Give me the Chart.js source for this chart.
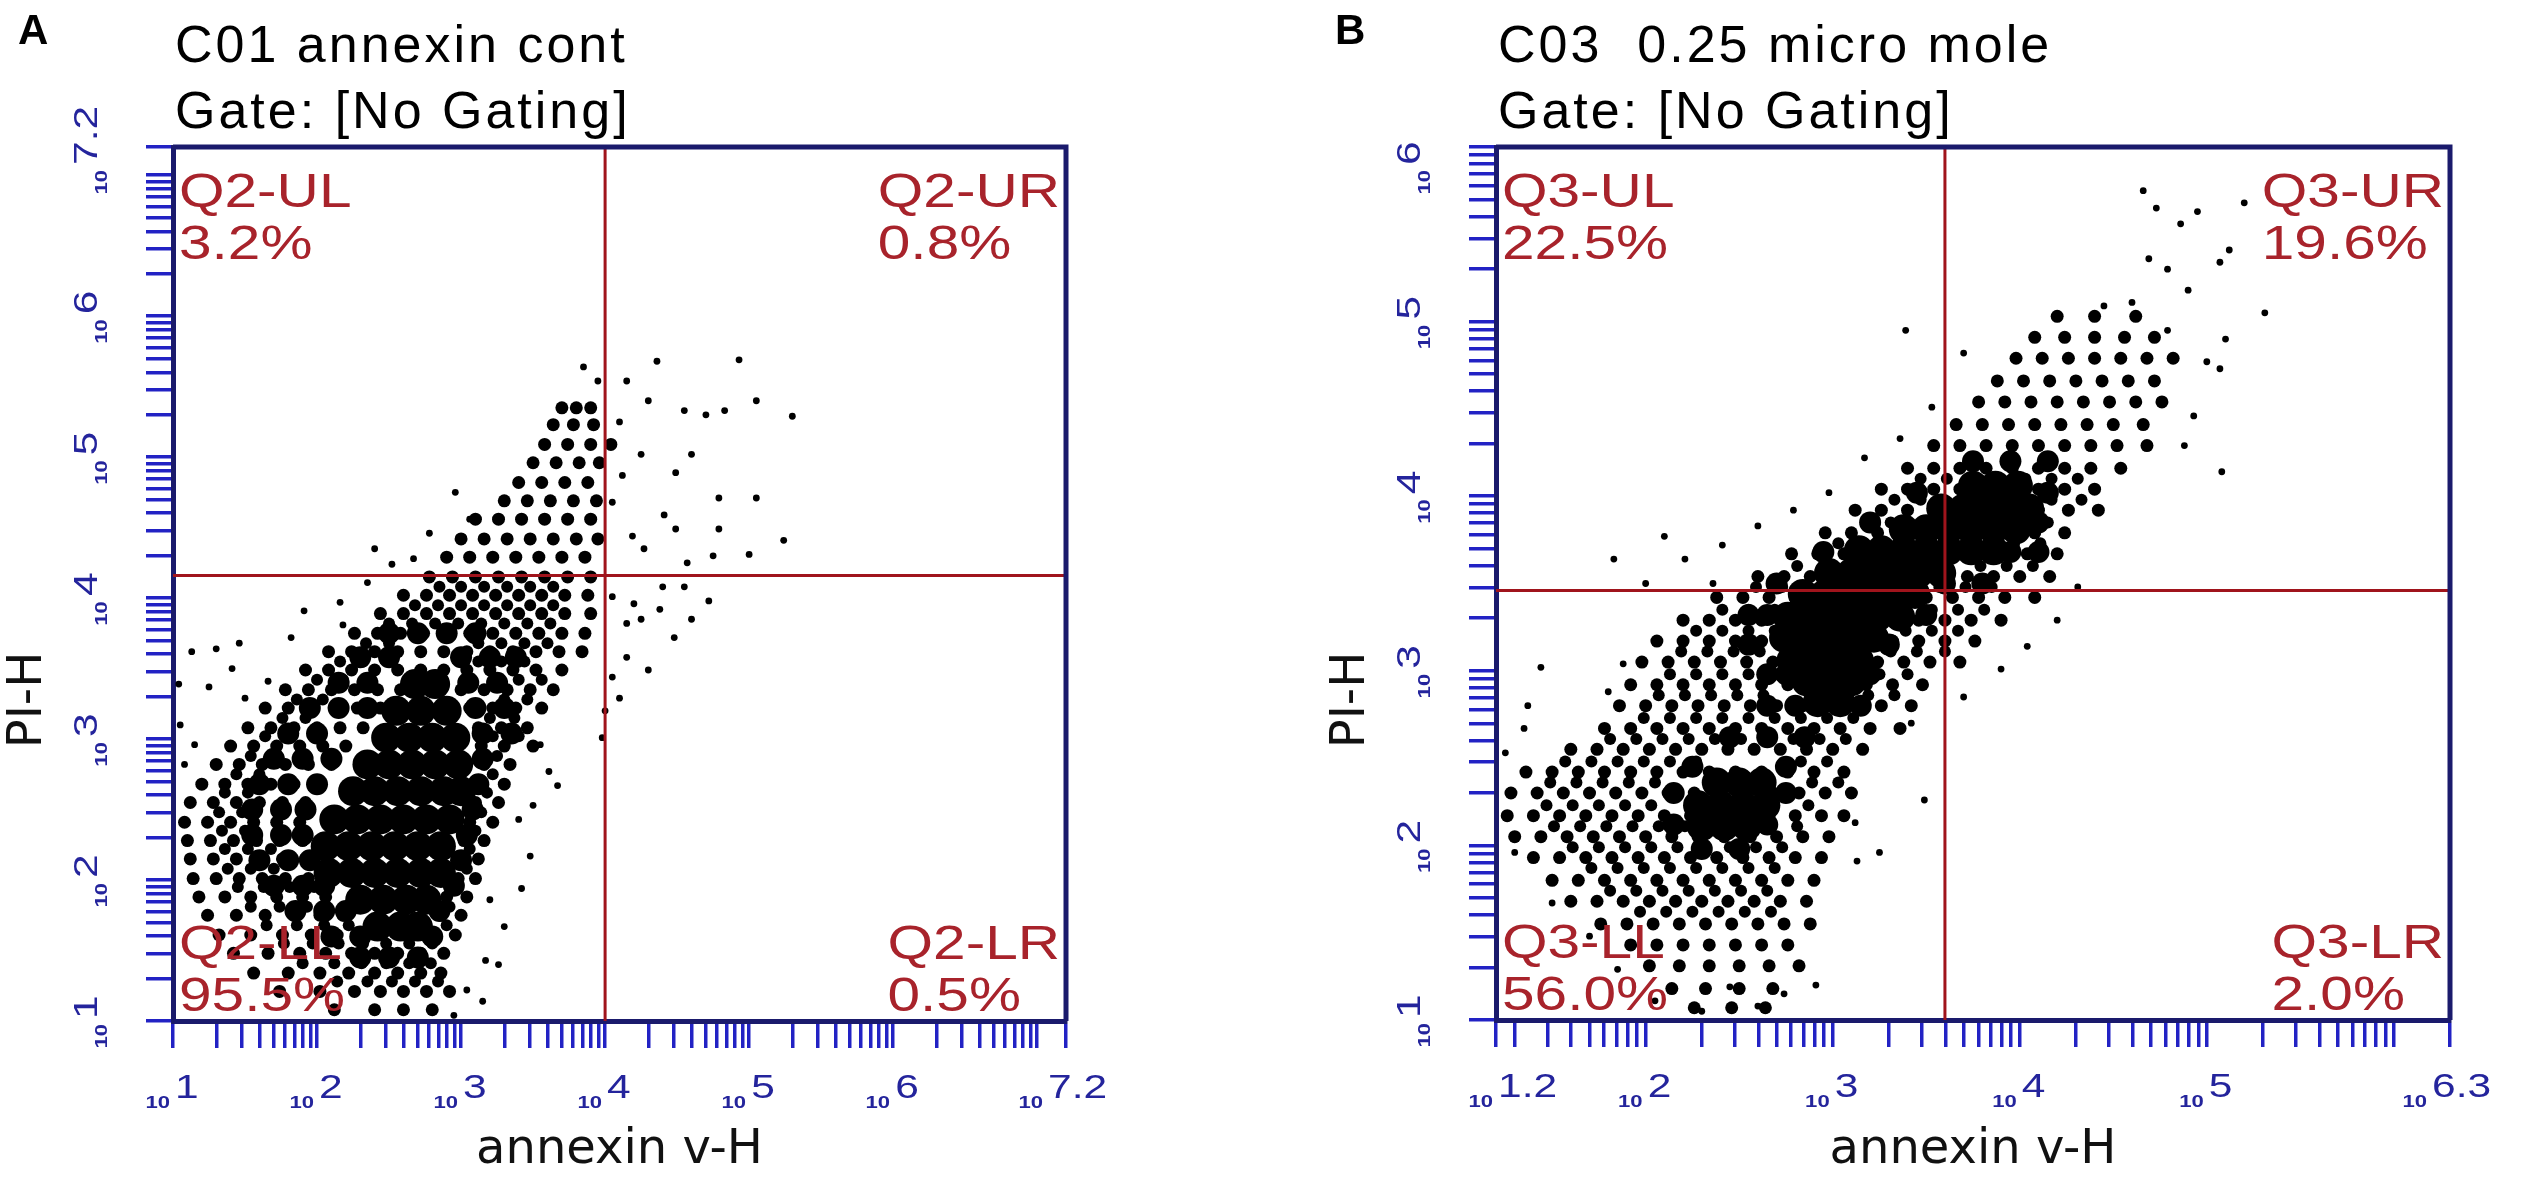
<!DOCTYPE html>
<html>
<head>
<meta charset="utf-8">
<title>Annexin V / PI flow cytometry</title>
<script src="https://cdn.jsdelivr.net/npm/chart.js@4.4.0/dist/chart.umd.min.js"></script>
<style>
  html, body { margin: 0; padding: 0; background: #fff; }
  #wrap { position: relative; width: 2537px; height: 1191px; overflow: hidden; }
  .panel { position: absolute; top: 0; }
  #pA { left: 0; }
  #pB { left: 1268px; }
</style>
</head>
<body>
<div id="wrap">
  <div class="panel" id="pA"><canvas id="chartA" width="1268" height="1191"></canvas></div>
  <div class="panel" id="pB"><canvas id="chartB" width="1269" height="1191"></canvas></div>
</div>
<script>
// ---- panel text ----
const titlesA = ['C01 annexin cont', 'Gate: [No Gating]'];
const titlesB = ['C03  0.25 micro mole', 'Gate: [No Gating]'];
const xTitle = 'annexin v-H';
const yTitle = 'PI-H';

// ---- axes (all in decades, log10) ----
const xRangeA = [1, 7.2];
const yRangeA = [1, 7.2];
const xRangeB = [1.2, 6.3];
const yRangeB = [1, 6];
const xLabelsA = [1, 2, 3, 4, 5, 6, 7.2];
const yLabelsA = [1, 2, 3, 4, 5, 6, 7.2];
const xLabelsB = [1.2, 2, 3, 4, 5, 6.3];
const yLabelsB = [1, 2, 3, 4, 5, 6];

// quadrant gate (x, y) in decades
const quadA = [4.0, 4.16];
const quadB = [3.6, 3.46];
const quadNamesA = ['Q2-UL', 'Q2-UR', 'Q2-LL', 'Q2-LR'];
const quadPctA = ['3.2%', '0.8%', '95.5%', '0.5%'];
const quadNamesB = ['Q3-UL', 'Q3-UR', 'Q3-LL', 'Q3-LR'];
const quadPctB = ['22.5%', '19.6%', '56.0%', '2.0%'];

// ---- events, in decades ----
// solid black core: [y, [x...]]
const coreA = [
  [3.39, [2.68, 2.82]],
  [3.2, [2.55, 2.72, 2.9]],
  [3.01, [2.48, 2.64, 2.8, 2.96]],
  [2.82, [2.35, 2.5, 2.66, 2.82, 2.98]],
  [2.63, [2.25, 2.4, 2.56, 2.72, 2.88, 3.0]],
  [2.43, [2.12, 2.28, 2.44, 2.6, 2.76, 2.92]],
  [2.24, [2.06, 2.22, 2.38, 2.54, 2.7, 2.86]],
  [2.05, [2.08, 2.24, 2.4, 2.56, 2.72, 2.86]],
  [1.86, [2.3, 2.46, 2.62, 2.76]],
  [1.67, [2.42, 2.58, 2.7]]
];
// dark band round the core: [y, [x...]]
const haloA = [
  [3.75, [2.5, 2.7, 2.9, 3.1]],
  [3.58, [2.3, 2.5, 3.0, 3.2, 3.38]],
  [3.4, [2.15, 2.35, 3.05, 3.25]],
  [3.22, [1.95, 2.15, 2.35, 3.1, 3.3]],
  [3.04, [1.8, 2.0, 3.15, 3.35]],
  [2.86, [1.7, 1.9, 2.1, 3.15]],
  [2.68, [1.6, 1.8, 2.0, 3.12]],
  [2.5, [1.55, 1.75, 1.92, 3.08]],
  [2.32, [1.55, 1.75, 1.9, 3.04]],
  [2.14, [1.6, 1.8, 1.95, 3.0]],
  [1.96, [1.7, 1.9, 2.05, 2.95]],
  [1.78, [1.85, 2.05, 2.2, 2.85]],
  [1.6, [2.1, 2.3, 2.8]],
  [1.45, [2.3, 2.5, 2.7]]
];
// speckled cloud: [y, [x...]]
const cloudA = [
  [5.35, [3.7, 3.8, 3.9]],
  [5.23, [3.64, 3.78, 3.92]],
  [5.09, [3.58, 3.74, 3.9, 4.04]],
  [4.96, [3.5, 3.66, 3.82, 3.96]],
  [4.82, [3.4, 3.56, 3.72, 3.88]],
  [4.69, [3.3, 3.46, 3.62, 3.78, 3.94]],
  [4.56, [3.1, 3.26, 3.42, 3.58, 3.74, 3.9]],
  [4.42, [3.0, 3.16, 3.32, 3.48, 3.64, 3.8, 3.95]],
  [4.29, [2.9, 3.06, 3.22, 3.38, 3.54, 3.7, 3.86]],
  [4.15, [2.78, 2.94, 3.1, 3.26, 3.42, 3.58, 3.74, 3.9]],
  [4.02, [2.6, 2.76, 2.92, 3.08, 3.24, 3.4, 3.56, 3.72, 3.88]],
  [3.89, [2.44, 2.6, 2.76, 2.92, 3.08, 3.24, 3.4, 3.56, 3.72, 3.9]],
  [3.75, [2.26, 2.42, 2.58, 2.74, 2.9, 3.06, 3.22, 3.38, 3.54, 3.7, 3.86]],
  [3.62, [2.08, 2.24, 2.4, 2.56, 2.72, 2.88, 3.04, 3.2, 3.36, 3.52, 3.68, 3.84]],
  [3.49, [1.92, 2.08, 2.24, 2.4, 2.56, 2.72, 2.88, 3.04, 3.2, 3.36, 3.52, 3.7]],
  [3.35, [1.78, 1.94, 2.1, 2.26, 2.42, 2.58, 3.0, 3.16, 3.32, 3.48, 3.64]],
  [3.22, [1.64, 1.8, 1.96, 2.12, 2.28, 2.44, 3.06, 3.22, 3.38, 3.56]],
  [3.08, [1.52, 1.68, 1.84, 2.0, 2.16, 2.32, 3.12, 3.28, 3.46]],
  [2.95, [1.4, 1.56, 1.72, 1.88, 2.04, 2.2, 3.14, 3.3, 3.5]],
  [2.82, [1.3, 1.46, 1.62, 1.78, 1.94, 2.1, 3.16, 3.34]],
  [2.68, [1.2, 1.36, 1.52, 1.68, 1.84, 2.0, 3.14, 3.3]],
  [2.55, [1.12, 1.28, 1.44, 1.6, 1.76, 1.92, 3.1, 3.26]],
  [2.41, [1.08, 1.24, 1.4, 1.56, 1.72, 1.88, 3.06, 3.22]],
  [2.28, [1.1, 1.26, 1.42, 1.58, 1.74, 1.9, 3.02, 3.16]],
  [2.15, [1.12, 1.28, 1.44, 1.6, 1.76, 1.92, 3.0, 3.12]],
  [2.01, [1.14, 1.3, 1.46, 1.62, 1.78, 1.94, 2.98, 3.1]],
  [1.88, [1.18, 1.36, 1.54, 1.72, 1.9, 2.06, 2.9, 3.04]],
  [1.75, [1.24, 1.44, 1.64, 1.84, 2.02, 2.18, 2.86, 3.0]],
  [1.61, [1.32, 1.54, 1.76, 1.96, 2.14, 2.3, 2.82, 2.96]],
  [1.48, [1.42, 1.66, 1.88, 2.06, 2.24, 2.4, 2.56, 2.72, 2.88]],
  [1.34, [1.56, 1.8, 2.02, 2.22, 2.4, 2.56, 2.72, 2.86]],
  [1.21, [1.74, 2.02, 2.26, 2.44, 2.6, 2.76, 2.92]],
  [1.08, [2.12, 2.4, 2.6, 2.8]]
];
// extra events filling the denser inner part of the cloud: [y, [x...]]
const innerA = [
  [4.08, [2.85, 3.0, 3.16, 3.32, 3.48, 3.64]],
  [3.95, [2.68, 2.84, 3.0, 3.16, 3.32, 3.48, 3.64]],
  [3.82, [2.5, 2.66, 2.82, 2.98, 3.14, 3.3, 3.46, 3.62]],
  [3.68, [2.34, 2.5, 3.12, 3.28, 3.44, 3.6]],
  [3.55, [2.16, 2.32, 3.12, 3.28, 3.44]],
  [3.42, [2.0, 2.18, 3.24, 3.4, 3.56]],
  [3.28, [1.86, 2.04, 3.3, 3.46]],
  [3.15, [1.76, 1.92, 3.2, 3.37]],
  [3.02, [1.64, 1.8, 3.22, 3.4]],
  [2.88, [1.54, 1.7, 3.25]],
  [2.75, [1.44, 1.6, 3.22]],
  [2.62, [1.36, 1.52, 3.18]],
  [2.48, [1.32, 1.48, 3.14]],
  [2.35, [1.34, 1.5, 3.1]],
  [2.22, [1.36, 1.52, 1.68, 3.06]],
  [2.08, [1.38, 1.54, 1.7, 3.04]],
  [1.95, [1.45, 1.63, 1.81, 1.98, 2.96]],
  [1.81, [1.54, 1.74, 1.93, 2.92]],
  [1.68, [1.65, 1.86, 2.05, 2.22, 2.9]],
  [1.55, [1.77, 1.97, 2.15, 2.32, 2.48, 2.64, 2.8]],
  [1.41, [1.9, 2.12, 2.31, 2.48, 2.64, 2.79]],
  [1.28, [2.14, 2.35, 2.52, 2.68, 2.84]]
];
// single scattered events: [x, y]
const strayA = [
  [4.93, 5.69], [4.36, 5.68], [5.05, 5.4], [5.3, 5.29], [4.55, 5.33], [4.7, 5.3], [4.83, 5.33],
  [4.49, 4.89], [4.6, 5.02], [4.79, 4.71], [5.05, 4.71], [5.24, 4.41], [5.0, 4.31], [4.79, 4.49],
  [4.41, 4.59], [4.49, 4.49], [4.19, 4.44], [4.27, 4.35], [4.75, 4.3], [4.57, 4.25], [4.25, 5.02],
  [4.1, 5.25], [4.15, 5.54], [3.95, 5.54], [3.85, 5.64], [4.3, 5.4], [4.12, 4.87], [4.05, 4.68],
  [4.05, 4.01], [4.15, 3.82], [4.25, 3.85], [4.38, 3.92], [4.48, 3.72], [4.6, 3.85], [4.72, 3.98],
  [4.15, 3.58], [4.05, 3.44], [4.3, 3.49], [4.4, 4.08], [4.55, 4.08], [4.0, 3.2], [3.98, 3.01],
  [4.1, 3.29], [4.2, 3.96],
  [2.96, 4.75], [3.06, 4.56], [2.78, 4.46], [2.67, 4.28], [2.52, 4.24], [2.35, 4.11], [2.16, 3.97],
  [1.91, 3.91], [1.82, 3.72], [1.46, 3.68], [1.3, 3.64], [1.13, 3.62], [1.41, 3.5], [1.25, 3.37],
  [1.66, 3.41], [2.18, 3.81], [1.05, 3.1], [1.15, 2.96], [1.5, 3.29], [1.08, 2.82], [1.04, 3.39],
  [2.4, 4.35],
  [3.48, 2.17], [3.42, 1.94], [3.17, 1.43], [3.26, 1.4], [3.04, 1.22], [3.67, 2.67], [3.61, 2.77],
  [3.4, 2.43], [3.55, 2.96], [3.3, 1.67], [3.15, 1.14], [2.95, 1.04], [3.5, 2.53], [3.2, 1.86]
];

const coreB = [
  [4.06, [3.75, 3.87, 3.99]],
  [3.93, [3.58, 3.7, 3.82, 3.94, 4.05]],
  [3.81, [3.38, 3.5, 3.62, 3.74, 3.86, 3.98]],
  [3.69, [3.14, 3.26, 3.38, 3.5, 3.62, 3.74, 3.86]],
  [3.56, [2.98, 3.1, 3.22, 3.34, 3.46, 3.58]],
  [3.44, [2.84, 2.96, 3.08, 3.2, 3.32, 3.44]],
  [3.31, [2.76, 2.88, 3.0, 3.12, 3.24, 3.36]],
  [3.19, [2.74, 2.86, 2.98, 3.1, 3.22]],
  [3.06, [2.78, 2.9, 3.02, 3.14]],
  [2.94, [2.86, 2.98, 3.1]],
  [2.82, [2.92, 3.04]],
  [2.36, [2.38, 2.5, 2.62]],
  [2.23, [2.28, 2.4, 2.52, 2.64]],
  [2.11, [2.3, 2.42, 2.54]]
];
const haloB = [
  [4.2, [3.75, 3.95, 4.15]],
  [4.02, [3.45, 4.15]],
  [3.85, [3.2, 4.1]],
  [3.68, [2.95, 3.95, 4.1]],
  [3.5, [2.7, 3.6, 3.8]],
  [3.32, [2.55, 2.65, 3.5]],
  [3.15, [2.55, 3.3]],
  [2.98, [2.65, 2.75, 3.2]],
  [2.8, [2.65, 2.8, 3.15]],
  [2.62, [2.45, 2.65, 2.85]],
  [2.45, [2.25, 2.75]],
  [2.3, [2.15, 2.75]],
  [2.12, [2.15, 2.65]],
  [1.98, [2.3, 2.5]]
];
const cloudB = [
  [5.03, [4.2, 4.4, 4.62]],
  [4.91, [4.08, 4.24, 4.4, 4.56, 4.72]],
  [4.79, [3.98, 4.12, 4.26, 4.4, 4.54, 4.68, 4.82]],
  [4.66, [3.88, 4.02, 4.16, 4.3, 4.44, 4.58, 4.72]],
  [4.54, [3.78, 3.92, 4.06, 4.2, 4.34, 4.48, 4.62, 4.76]],
  [4.41, [3.66, 3.8, 3.94, 4.08, 4.22, 4.36, 4.5, 4.66]],
  [4.29, [3.54, 3.68, 3.82, 3.96, 4.1, 4.24, 4.38, 4.52, 4.68]],
  [4.16, [3.4, 3.54, 3.68, 3.82, 3.96, 4.1, 4.24, 4.38, 4.54]],
  [4.04, [3.26, 3.4, 3.54, 3.68, 3.82, 3.96, 4.1, 4.24, 4.4]],
  [3.92, [3.12, 3.26, 3.4, 3.54, 3.68, 3.82, 3.96, 4.1, 4.26, 4.42]],
  [3.79, [2.96, 3.1, 3.24, 3.38, 3.52, 3.66, 3.8, 3.94, 4.08, 4.24]],
  [3.67, [2.78, 2.92, 3.06, 3.2, 3.34, 3.48, 3.62, 3.76, 3.9, 4.04, 4.2]],
  [3.54, [2.6, 2.74, 2.88, 3.02, 3.16, 3.3, 3.44, 3.58, 3.72, 3.86, 4.0, 4.16]],
  [3.42, [2.38, 2.52, 2.66, 2.8, 2.94, 3.08, 3.22, 3.36, 3.5, 3.64, 3.78, 3.92, 4.08]],
  [3.29, [2.2, 2.34, 2.48, 2.62, 2.76, 2.9, 3.04, 3.18, 3.32, 3.46, 3.6, 3.74, 3.9]],
  [3.17, [2.06, 2.2, 2.34, 2.48, 2.62, 2.76, 2.9, 3.04, 3.18, 3.32, 3.46, 3.6, 3.76]],
  [3.05, [1.98, 2.12, 2.26, 2.4, 2.54, 2.68, 2.82, 2.96, 3.1, 3.24, 3.38, 3.52, 3.68]],
  [2.92, [1.92, 2.06, 2.2, 2.34, 2.48, 2.62, 2.76, 2.9, 3.04, 3.18, 3.32, 3.48]],
  [2.8, [1.86, 2.0, 2.14, 2.28, 2.42, 2.56, 2.7, 2.84, 2.98, 3.12, 3.26, 3.42]],
  [2.67, [1.78, 1.92, 2.06, 2.2, 2.34, 2.48, 2.62, 2.76, 2.9, 3.04, 3.2, 3.36]],
  [2.55, [1.6, 1.74, 1.88, 2.02, 2.16, 2.3, 2.44, 2.58, 2.72, 2.86, 3.0, 3.16]],
  [2.42, [1.36, 1.5, 1.64, 1.78, 1.92, 2.06, 2.2, 2.34, 2.48, 2.62, 2.76, 2.9, 3.06]],
  [2.3, [1.28, 1.42, 1.56, 1.7, 1.84, 1.98, 2.12, 2.26, 2.4, 2.54, 2.68, 2.82, 2.96, 3.1]],
  [2.17, [1.26, 1.4, 1.54, 1.68, 1.82, 1.96, 2.1, 2.24, 2.38, 2.52, 2.66, 2.8, 2.94, 3.06]],
  [2.05, [1.3, 1.44, 1.58, 1.72, 1.86, 2.0, 2.14, 2.28, 2.42, 2.56, 2.7, 2.84, 2.98]],
  [1.93, [1.4, 1.54, 1.68, 1.82, 1.96, 2.1, 2.24, 2.38, 2.52, 2.66, 2.8, 2.94]],
  [1.8, [1.5, 1.64, 1.78, 1.92, 2.06, 2.2, 2.34, 2.48, 2.62, 2.76, 2.9]],
  [1.68, [1.6, 1.74, 1.88, 2.02, 2.16, 2.3, 2.44, 2.58, 2.72, 2.86]],
  [1.55, [1.76, 1.9, 2.04, 2.18, 2.32, 2.46, 2.6, 2.74, 2.88]],
  [1.43, [1.92, 2.06, 2.2, 2.34, 2.48, 2.62, 2.76]],
  [1.31, [2.02, 2.18, 2.34, 2.5, 2.66, 2.82]],
  [1.18, [2.14, 2.32, 2.5, 2.68]],
  [1.07, [2.26, 2.46, 2.64]]
];
const innerB = [
  [4.1, [3.47, 3.61, 4.03, 4.17, 4.31]],
  [3.98, [3.33, 3.47, 4.03, 4.17, 4.33]],
  [3.85, [3.19, 3.31, 4.01, 4.15]],
  [3.73, [3.03, 3.17, 3.97, 4.11]],
  [3.6, [2.81, 2.95, 3.09, 3.79, 3.93, 4.07]],
  [3.48, [2.59, 2.73, 3.57, 3.71, 3.85]],
  [3.35, [2.41, 2.55, 2.69, 3.53, 3.67, 3.81]],
  [3.23, [2.27, 2.41, 2.55, 2.69, 3.39, 3.53, 3.67]],
  [3.11, [2.19, 2.33, 2.47, 2.61, 3.31, 3.45, 3.6]],
  [2.98, [2.13, 2.27, 2.41, 2.55, 2.69, 3.25, 3.4]],
  [2.86, [2.07, 2.21, 2.35, 2.49, 2.63, 3.19, 3.33]],
  [2.73, [1.99, 2.13, 2.27, 2.41, 2.55, 2.69, 2.83, 2.97, 3.11]],
  [2.61, [1.81, 1.95, 2.09, 2.23, 2.37, 2.51, 2.65, 2.79, 2.93, 3.07]],
  [2.48, [1.57, 1.71, 1.85, 1.99, 2.13, 2.27, 2.83, 2.97]],
  [2.36, [1.49, 1.63, 1.77, 1.91, 2.05, 2.89, 3.03]],
  [2.23, [1.47, 1.61, 1.75, 1.89, 2.03, 2.87]],
  [2.11, [1.51, 1.65, 1.79, 1.93, 2.07, 2.21, 2.67, 2.81]],
  [1.99, [1.61, 1.75, 1.89, 2.03, 2.17, 2.31, 2.45, 2.59, 2.73]],
  [1.87, [1.71, 1.85, 1.99, 2.13, 2.27, 2.41, 2.55, 2.69]],
  [1.74, [1.81, 1.95, 2.09, 2.23, 2.37, 2.51, 2.65]],
  [1.62, [1.97, 2.11, 2.25, 2.39, 2.53, 2.67]]
];
const strayB = [
  [4.66, 5.75], [4.73, 5.65], [4.86, 5.56], [4.69, 5.36], [4.79, 5.3], [5.07, 5.34], [5.12, 5.41],
  [4.9, 5.18], [5.31, 5.05], [5.07, 4.73], [5.08, 4.14], [4.93, 4.46], [5.1, 4.9], [4.79, 4.95],
  [4.45, 5.09], [4.6, 5.11], [4.95, 5.63], [5.2, 5.68], [5.0, 4.77], [4.88, 4.29],
  [3.39, 4.95], [3.53, 4.51], [3.36, 4.33], [3.17, 4.22], [2.98, 4.02], [2.79, 3.92], [2.6, 3.83],
  [2.41, 3.72], [2.21, 3.64], [1.83, 3.64], [2.0, 3.5], [2.36, 3.5], [1.44, 3.02], [1.37, 2.8],
  [1.8, 2.88], [1.88, 3.04], [2.1, 3.77], [3.7, 4.82],
  [3.49, 2.26], [3.13, 1.91], [3.12, 2.13], [3.42, 2.7], [3.7, 2.85], [4.04, 3.14], [4.07, 3.42],
  [4.31, 3.48], [4.2, 3.29], [3.9, 3.01], [3.25, 1.96],
  [2.91, 1.2], [2.74, 1.15], [2.6, 1.08], [2.45, 1.19], [2.3, 1.05], [2.05, 1.11], [1.85, 1.29],
  [1.7, 1.48], [1.5, 1.67], [1.3, 1.96], [1.25, 2.53], [1.35, 2.67]
];

// ---- helpers ----
function fromRows(rows) {
  const pts = [];
  rows.forEach(([ly, xs]) => xs.forEach(lx => pts.push({ x: 10 ** lx, y: 10 ** ly })));
  return pts;
}
function fromPairs(pairs) {
  return pairs.map(([lx, ly]) => ({ x: 10 ** lx, y: 10 ** ly }));
}
// tick marks at 1..9 x 10^n inside the range, plus both ends
function logTicks(range) {
  const lo = 10 ** range[0], hi = 10 ** range[1];
  const out = [lo];
  for (let n = Math.floor(range[0]); n <= Math.ceil(range[1]); n++) {
    for (let k = 1; k <= 9; k++) {
      const v = k * 10 ** n;
      if (v > lo * 1.01 && v < hi / 1.01) out.push(v);
    }
  }
  out.push(hi);
  return out;
}

const NAVY = '#1a1a6c';
const TICKBLUE = '#2222c4';
const LABELBLUE = '#24249c';
const GATERED = '#a0141c';
const TEXTRED = '#a8232b';
const WIDE = 1.22;

// text stretched sideways like the old bitmap fonts
function wideText(ctx, text, x, y, sx) {
  ctx.save();
  ctx.translate(x, y);
  ctx.scale(sx, 1);
  ctx.fillText(text, 0, 0);
  ctx.restore();
}

// small "10" below, big exponent, joined at (0,0)
function powLabel(ctx, exp) {
  ctx.textBaseline = 'alphabetic';
  ctx.textAlign = 'left';
  ctx.font = 'bold 17px "Liberation Sans"';
  const w10 = ctx.measureText('10').width * 1.3;
  wideText(ctx, '10', -w10 - 3, 10, 1.3);
  ctx.font = '34px "Liberation Sans"';
  wideText(ctx, String(exp), 2, 0, 1.25);
}

const flowDecor = {
  id: 'flowDecor',
  afterDatasetsDraw(chart, args, o) {
    const { ctx, chartArea: a } = chart;
    const x = chart.scales.x, y = chart.scales.y;
    ctx.save();
    // gate lines
    const gx = x.getPixelForValue(10 ** o.quad[0]);
    const gy = y.getPixelForValue(10 ** o.quad[1]);
    ctx.strokeStyle = GATERED;
    ctx.lineWidth = 3;
    ctx.beginPath();
    ctx.moveTo(gx, a.top); ctx.lineTo(gx, a.bottom);
    ctx.moveTo(a.left, gy); ctx.lineTo(a.right, gy);
    ctx.stroke();
    // top and right frame
    ctx.strokeStyle = NAVY;
    ctx.lineWidth = 5;
    ctx.beginPath();
    ctx.moveTo(a.left, a.top); ctx.lineTo(a.right, a.top); ctx.lineTo(a.right, a.bottom);
    ctx.stroke();
    // quadrant labels
    ctx.fillStyle = TEXTRED;
    ctx.font = '48px "Liberation Sans"';
    ctx.textAlign = 'left';
    ctx.textBaseline = 'alphabetic';
    const n = o.names, p = o.pcts;
    wideText(ctx, n[0], a.left + 6, a.top + 60, WIDE);
    wideText(ctx, p[0], a.left + 6, a.top + 112, WIDE);
    let rx = a.right - 6 - ctx.measureText(n[1]).width * WIDE;
    wideText(ctx, n[1], rx, a.top + 60, WIDE);
    wideText(ctx, p[1], rx, a.top + 112, WIDE);
    wideText(ctx, n[2], a.left + 6, a.bottom - 62, WIDE);
    wideText(ctx, p[2], a.left + 6, a.bottom - 10, WIDE);
    rx = a.right - 6 - ctx.measureText(n[3]).width * WIDE;
    wideText(ctx, n[3], rx, a.bottom - 62, WIDE);
    wideText(ctx, p[3], rx, a.bottom - 10, WIDE);
    ctx.restore();
  },
  afterDraw(chart, args, o) {
    const { ctx, chartArea: a } = chart;
    const x = chart.scales.x, y = chart.scales.y;
    ctx.save();
    ctx.fillStyle = LABELBLUE;
    o.xLabels.forEach((e, i) => {
      const last = i === o.xLabels.length - 1 ? -20 : 0;
      ctx.save();
      ctx.translate(x.getPixelForValue(10 ** e) + last, a.bottom + 77);
      powLabel(ctx, e);
      ctx.restore();
    });
    o.yLabels.forEach((e, i) => {
      const last = i === o.yLabels.length - 1 ? 20 : 0;
      ctx.save();
      ctx.translate(a.left - 76, y.getPixelForValue(10 ** e) + last);
      ctx.rotate(-Math.PI / 2);
      powLabel(ctx, e);
      ctx.restore();
    });
    // axis titles
    ctx.fillStyle = '#111';
    ctx.font = '48px "DejaVu Sans"';
    ctx.textAlign = 'center';
    ctx.textBaseline = 'alphabetic';
    ctx.fillText(xTitle, (a.left + a.right) / 2, 1163);
    ctx.save();
    ctx.translate(a.left - 132, 700);
    ctx.rotate(-Math.PI / 2);
    ctx.fillText(yTitle, 0, 0);
    ctx.restore();
    // header
    ctx.fillStyle = '#000';
    ctx.textAlign = 'left';
    ctx.font = '52px "Liberation Sans"';
    ctx.letterSpacing = '3px';
    ctx.fillText(o.titles[0], a.left + 2, 62);
    ctx.fillText(o.titles[1], a.left + 2, 128);
    ctx.letterSpacing = '0px';
    ctx.font = 'bold 42px "Liberation Sans"';
    ctx.fillText(o.letter, o.letterX, 44);
    ctx.restore();
  }
};

function axis(range, pos) {
  return {
    type: 'logarithmic',
    position: pos,
    min: 10 ** range[0],
    max: 10 ** range[1],
    afterBuildTicks: ax => { ax.ticks = logTicks(range).map(v => ({ value: v })); },
    afterFit: ax => { if (pos === 'left') ax.width = 60; else ax.height = 60; },
    ticks: { display: false },
    grid: { drawOnChartArea: false, drawTicks: true, tickLength: 27, color: TICKBLUE, lineWidth: 3.5 },
    border: { display: true, color: NAVY, width: 5 }
  };
}

function dotSet(data, r) {
  return { data, pointRadius: r, pointHoverRadius: r, pointBorderWidth: 0,
           backgroundColor: '#000', borderColor: '#000', showLine: false };
}

function makePlot(id, p) {
  return new Chart(document.getElementById(id), {
    type: 'scatter',
    data: {
      datasets: [
        dotSet(fromRows(p.core), 15),
        dotSet(fromRows(p.halo), 11),
        dotSet(fromRows(p.cloud), 6.5),
        dotSet(fromRows(p.inner), 6),
        dotSet(fromPairs(p.stray), 3.4)
      ]
    },
    options: {
      responsive: false,
      animation: false,
      events: [],
      layout: { padding: p.pad },
      plugins: {
        legend: { display: false },
        tooltip: { enabled: false },
        flowDecor: {
          quad: p.quad, names: p.names, pcts: p.pcts,
          xLabels: p.xLabels, yLabels: p.yLabels,
          titles: p.titles, letter: p.letter, letterX: p.letterX
        }
      },
      scales: { x: axis(p.xRange, 'bottom'), y: axis(p.yRange, 'left') }
    },
    plugins: [flowDecor]
  });
}

makePlot('chartA', {
  core: coreA, halo: haloA, cloud: cloudA, inner: innerA, stray: strayA,
  xRange: xRangeA, yRange: yRangeA, xLabels: xLabelsA, yLabels: yLabelsA,
  quad: quadA, names: quadNamesA, pcts: quadPctA, titles: titlesA,
  letter: 'A', letterX: 18,
  pad: { left: 113, right: 202, top: 147, bottom: 110 }
});
makePlot('chartB', {
  core: coreB, halo: haloB, cloud: cloudB, inner: innerB, stray: strayB,
  xRange: xRangeB, yRange: yRangeB, xLabels: xLabelsB, yLabels: yLabelsB,
  quad: quadB, names: quadNamesB, pcts: quadPctB, titles: titlesB,
  letter: 'B', letterX: 67,
  pad: { left: 168, right: 87, top: 147, bottom: 111 }
});
</script>
</body>
</html>
